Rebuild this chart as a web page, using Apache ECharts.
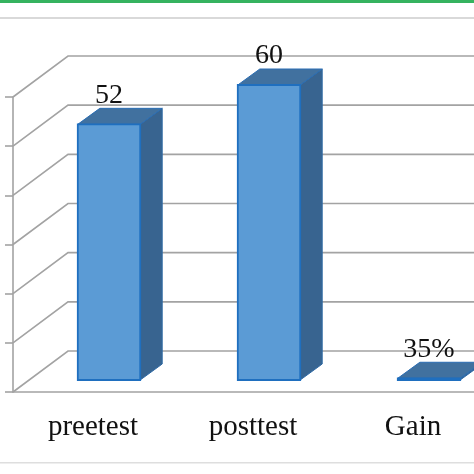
<!DOCTYPE html>
<html lang="en">
<head>
<meta charset="UTF-8">
<title>preetest posttest gain</title>
<script src="https://cdn.jsdelivr.net/npm/echarts@6/dist/echarts.min.js"></script>
<style>html,body{margin:0;padding:0;background:#fff}</style>
</head>
<body>
<div id="chart-wrap" style="width:474px;height:474px"></div>
<script>
var categories = ['preetest', 'posttest', 'Gain'];
var scores = [52, 60, 0.35];
var scoreLabels = ['52', '60', '35%'];
var yTicks = [0, 10, 20, 30, 40, 50, 60];

// oblique 3d look: floor depth, where the bar sits in it, and bar depth (px)
var FLOOR_DX = 55, FLOOR_DY = -41;
var SHIFT_X = 16, SHIFT_Y = -12;
var BAR_DX = 22, BAR_DY = -16;
var GRID_COLOR = '#a3a3a3';
var SERIF = '"Liberation Serif", "DejaVu Serif", serif';

var chart = echarts.init(document.getElementById('chart-wrap'));

function renderWall(params, api) {
  var cs = params.coordSys;
  var y = api.coord([0, api.value(1)])[1];
  var x0 = cs.x;
  return {
    type: 'polyline',
    shape: {points: [[x0, y], [x0 + FLOOR_DX, y + FLOOR_DY], [x0 + cs.width + FLOOR_DX, y + FLOOR_DY]]},
    style: {stroke: GRID_COLOR, lineWidth: 1.6, fill: null}
  };
}

function renderBar(params, api) {
  var idx = api.value(0);
  var top = api.coord([idx, api.value(1)]);
  var base = api.coord([idx, 0]);
  var w = api.size([1, 0])[0] * 0.39;
  var x1 = top[0] - w / 2 + SHIFT_X, x2 = x1 + w;
  var yt = top[1] + SHIFT_Y, yb = base[1] + SHIFT_Y;
  return {
    type: 'group',
    children: [
      {type: 'polygon', shape: {points: [[x2, yt], [x2 + BAR_DX, yt + BAR_DY], [x2 + BAR_DX, yb + BAR_DY], [x2, yb]]},
        style: {fill: '#386490', stroke: '#2f6aa6', lineWidth: 1}},
      {type: 'polygon', shape: {points: [[x1, yt], [x2, yt], [x2 + BAR_DX, yt + BAR_DY], [x1 + BAR_DX, yt + BAR_DY]]},
        style: {fill: '#41719f', stroke: '#2a6db3', lineWidth: 1}},
      {type: 'rect', shape: {x: x1, y: yt, width: w, height: Math.max(yb - yt, 1.5)},
        style: {fill: '#5b9bd5', stroke: '#1f6fbf', lineWidth: 1.8}},
      {type: 'text', style: {text: scoreLabels[params.dataIndex], x: x1 + w / 2, y: yt + BAR_DY + 1,
        align: 'center', verticalAlign: 'bottom', font: '28px ' + SERIF, fill: '#111'}}
    ]
  };
}

var option = {
  animation: false,
  backgroundColor: '#fff',
  grid: {left: 13, top: 97, width: 480, height: 295, outerBoundsMode: 'none'},
  xAxis: {
    type: 'category',
    data: categories,
    axisLine: {lineStyle: {color: GRID_COLOR, width: 1.6}},
    axisTick: {show: false},
    axisLabel: {margin: 21, color: '#111', fontSize: 29, fontFamily: SERIF}
  },
  yAxis: {
    type: 'value',
    min: 0, max: 60, interval: 10,
    axisLine: {show: true, lineStyle: {color: GRID_COLOR, width: 1.6}},
    axisTick: {show: true, length: 8, lineStyle: {color: GRID_COLOR, width: 1.6}},
    axisLabel: {show: false},
    splitLine: {show: false}
  },
  graphic: [
    {type: 'rect', left: 0, top: 0, shape: {width: 474, height: 3}, style: {fill: '#35b35f'}},
    {type: 'rect', left: 0, top: 17, shape: {width: 474, height: 2}, style: {fill: '#d9d9d9'}},
    {type: 'rect', left: 0, top: 462, shape: {width: 474, height: 1.5}, style: {fill: '#dedede'}}
  ],
  series: [
    {type: 'custom', renderItem: renderWall, data: yTicks.map(function (v) { return [0, v]; }), z: 1, silent: true},
    {type: 'custom', renderItem: renderBar, data: scores.map(function (v, i) { return [i, v]; }), z: 3}
  ]
};
chart.setOption(option);
</script>
</body>
</html>
